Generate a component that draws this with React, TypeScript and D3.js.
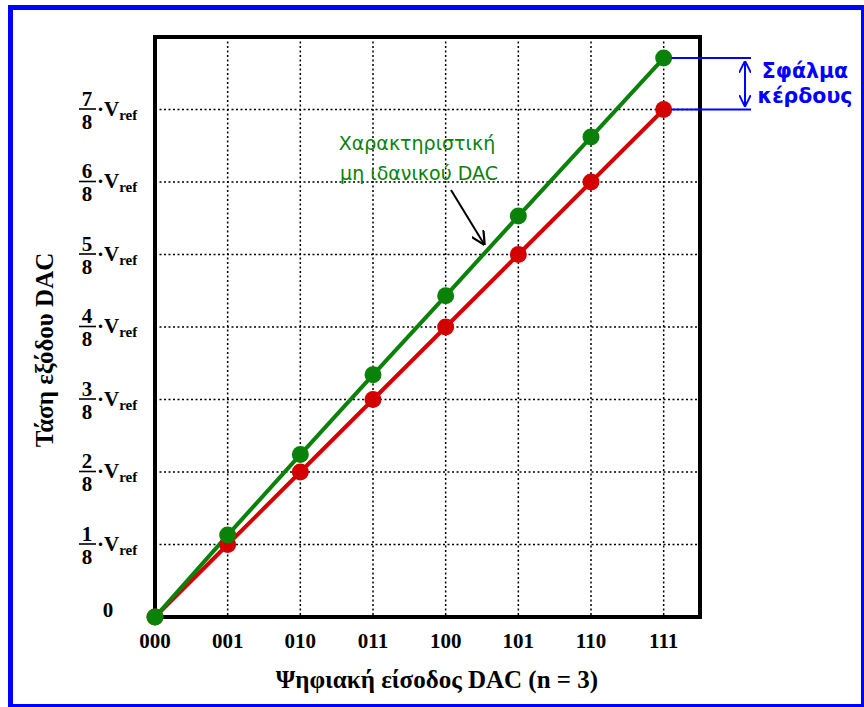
import React from "react";
import * as d3 from "d3";

const codes = ["000", "001", "010", "011", "100", "101", "110", "111"];
const idealEighths = [0, 1, 2, 3, 4, 5, 6, 7];
const realEighths = [0, 1.13, 2.24, 3.34, 4.43, 5.53, 6.62, 7.71];
const yTickNums = [1, 2, 3, 4, 5, 6, 7];

const W = 864;
const H = 707;
const left = 155;
const right = 700;
const top = 37;
const bottom = 617;

export default function App() {
  const x = d3.scaleLinear().domain([0, 7.5]).range([left, right]);
  const y = d3.scaleLinear().domain([0, 8]).range([bottom, top]);
  const line = d3
    .line<number>()
    .x((_, i) => x(i))
    .y((d) => y(d));

  const serif = "'Liberation Serif', 'Times New Roman', serif";
  const sans = "Verdana, 'DejaVu Sans', sans-serif";
  const green = "#0a820a";
  const red = "#d40000";
  const blue = "#0000ff";

  const lastX = x(7);
  const gY = y(realEighths[7]);
  const rY = y(idealEighths[7]);

  return (
    <svg width={W} height={H} style={{ position: "absolute", left: 0, top: 0 }}>
      <rect x={0} y={0} width={W} height={H} fill="#fff" />
      <rect x={10.5} y={7.5} width={853} height={699} fill="none" stroke={blue} strokeWidth={5} />
      {/* grid */}
      {codes.slice(1).map((c, i) => (
        <line key={"gx" + c} x1={x(i + 1)} x2={x(i + 1)} y1={top} y2={bottom} stroke="#000" strokeWidth={1.5} strokeDasharray="2,2.5" />
      ))}
      {yTickNums.map((n) => (
        <line key={"gy" + n} x1={left} x2={right} y1={y(n)} y2={y(n)} stroke="#000" strokeWidth={1.5} strokeDasharray="2,2.5" />
      ))}
      {/* frame */}
      <rect x={left} y={top} width={right - left} height={bottom - top} fill="none" stroke="#000" strokeWidth={4} />
      {/* x tick labels */}
      {codes.map((c, i) => (
        <text key={c} x={x(i)} y={648} textAnchor="middle" fontFamily={serif} fontWeight="bold" fontSize={21}>
          {c}
        </text>
      ))}
      {/* y tick labels */}
      <text x={108} y={617} textAnchor="middle" fontFamily={serif} fontWeight="bold" fontSize={21}>0</text>
      {yTickNums.map((n) => {
        const yy = y(n);
        return (
          <g key={"yl" + n}>
            <text x={87} y={yy - 4} textAnchor="middle" fontFamily={serif} fontWeight="bold" fontSize={21}>{n}</text>
            <line x1={79} x2={96} y1={yy - 0.5} y2={yy - 0.5} stroke="#000" strokeWidth={1.6} />
            <text x={87} y={yy + 19} textAnchor="middle" fontFamily={serif} fontWeight="bold" fontSize={21}>8</text>
            <text x={97} y={yy + 6} fontFamily={serif} fontWeight="bold" fontSize={21}>
              ·V
              <tspan fontSize={15} dy={4}>ref</tspan>
            </text>
          </g>
        );
      })}
      {/* axis titles */}
      <text x={437} y={688} textAnchor="middle" fontFamily={serif} fontWeight="bold" fontSize={25}>
        Ψηφιακή είσοδος DAC (n = 3)
      </text>
      <text transform={`translate(53,350) rotate(-90)`} textAnchor="middle" fontFamily={serif} fontWeight="bold" fontSize={25}>
        Τάση εξόδου DAC
      </text>
      {/* series */}
      <path d={line(idealEighths) || ""} fill="none" stroke={red} strokeWidth={4} />
      <path d={line(realEighths) || ""} fill="none" stroke={green} strokeWidth={4} />
      {idealEighths.map((v, i) => (
        <circle key={"r" + i} cx={x(i)} cy={y(v)} r={8.5} fill={red} />
      ))}
      {realEighths.map((v, i) => (
        <circle key={"g" + i} cx={x(i)} cy={y(v)} r={8.5} fill={green} />
      ))}
      {/* annotation text */}
      <text x={417} y={150} textAnchor="middle" fontFamily={sans} fontSize={19} fill={green}>Χαρακτηριστική</text>
      <text x={419} y={180} textAnchor="middle" fontFamily={sans} fontSize={19} fill={green}>μη ιδανικού DAC</text>
      <defs>
        <marker id="ah" viewBox="0 0 10 10" refX={9} refY={5} markerWidth={7} markerHeight={7} orient="auto">
          <path d="M0,0 L10,5 L0,10" fill="none" stroke="#000" strokeWidth={1.6} />
        </marker>
        <marker id="bh" viewBox="0 0 10 10" refX={9} refY={5} markerWidth={6} markerHeight={6} orient="auto-start-reverse">
          <path d="M0,0 L10,5 L0,10" fill="none" stroke={blue} strokeWidth={1.6} />
        </marker>
      </defs>
      <line x1={451} y1={190} x2={484} y2={244} stroke="#000" strokeWidth={2} markerEnd="url(#ah)" />
      {/* gain error */}
      <line x1={lastX + 8} x2={751} y1={gY} y2={gY} stroke={blue} strokeWidth={2} />
      <line x1={lastX + 8} x2={751} y1={rY} y2={rY} stroke={blue} strokeWidth={2} />
      <line x1={745} x2={745} y1={gY + 4} y2={rY - 4} stroke={blue} strokeWidth={2} markerStart="url(#bh)" markerEnd="url(#bh)" />
      <text x={805} y={78} textAnchor="middle" fontFamily={sans} fontWeight="bold" fontSize={20.5} fill={blue}>Σφάλμα</text>
      <text x={805} y={103} textAnchor="middle" fontFamily={sans} fontWeight="bold" fontSize={20.5} fill={blue}>κέρδους</text>
    </svg>
  );
}
